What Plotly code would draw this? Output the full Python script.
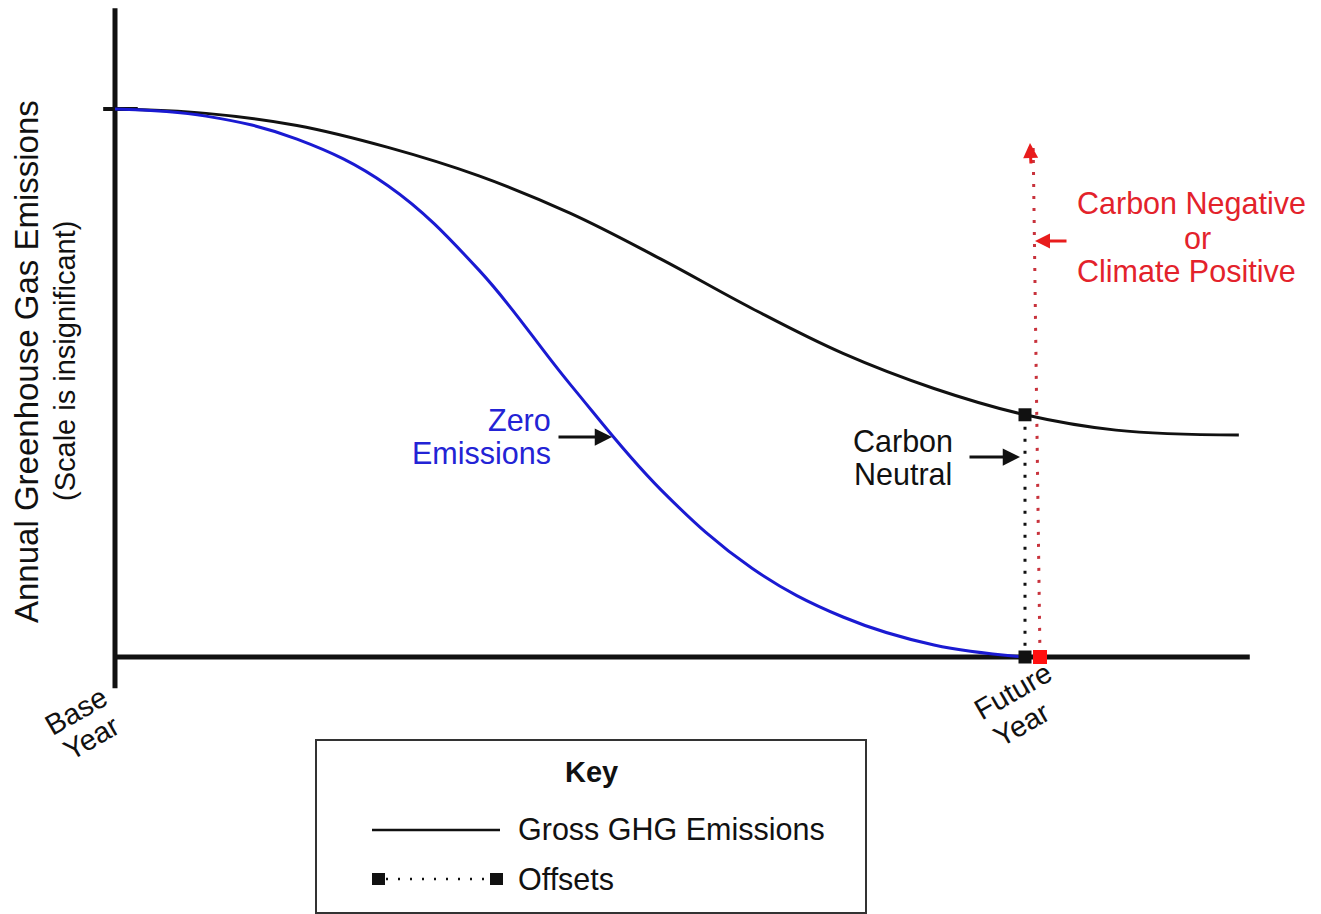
import plotly.graph_objects as go

W, H = 1321, 914

# ---- data (x: years after base year, future year = 10; y: % of base-year emissions) ----
gross_years = [0, 1, 2, 3, 4, 5, 6, 7, 8, 9, 10, 11, 12.35]
gross_values = [100, 99.2, 97.0, 93.0, 87.8, 81.0, 72.6, 63.6, 55.4, 49.0, 44.2, 41.4, 40.5]

zero_years = [0, 1, 2, 3, 4, 5, 6, 7, 8, 9, 10]
zero_values = [100, 98.7, 94.5, 86.0, 70.6, 49.8, 30.5, 16.2, 7.3, 2.2, 0]

future_year = 10
offset_x = [future_year, future_year]
offset_y = [44.2, 0]                 # gross at future year -> zero
negative_x = [10.09, 10.165]         # carbon-negative offsets line (top -> bottom)
negative_y = [92.9, 0]

# axis extents (data units)
X_MIN, X_MAX = -115 / 91, 1206 / 91
Y_MIN, Y_MAX = (657 - 914) / 5.48, 657 / 5.48
X_AXIS_END = 12.47
Y_AXIS_TOP = 118.4
Y_AXIS_BOTTOM = -5.7

FONT = "Liberation Sans, Arial, sans-serif"
BLACK = "#111111"
BLUE_LINE = "#1a1ad2"
BLUE_TEXT = "#2323d5"
RED_TEXT = "#e3222b"
RED_DOT = "#c8323c"
RED_ARROW = "#e81c1c"
FS = 30.5


def px(x):
    return x / W


def py(y):
    return 1 - y / H


fig = go.Figure()

# Gross GHG emissions curve
fig.add_trace(go.Scatter(x=gross_years, y=gross_values, mode="lines",
                         line=dict(color=BLACK, width=3, shape="spline", smoothing=1.1),
                         hoverinfo="skip"))
# Zero emissions curve
fig.add_trace(go.Scatter(x=zero_years, y=zero_values, mode="lines",
                         line=dict(color=BLUE_LINE, width=3, shape="spline", smoothing=1.1),
                         hoverinfo="skip"))
# Carbon negative offsets (red dotted)
fig.add_trace(go.Scatter(x=negative_x, y=negative_y, mode="lines",
                         line=dict(color=RED_DOT, width=3, dash="3px,9px"),
                         hoverinfo="skip"))
# Carbon neutral offsets (black dotted with squares)
fig.add_trace(go.Scatter(x=offset_x, y=offset_y, mode="lines",
                         line=dict(color=BLACK, width=3, dash="3px,9px"),
                         hoverinfo="skip"))
fig.add_trace(go.Scatter(x=offset_x, y=offset_y, mode="markers",
                         marker=dict(symbol="square", size=13, color=BLACK),
                         hoverinfo="skip"))
fig.add_trace(go.Scatter(x=[negative_x[1]], y=[negative_y[1]], mode="markers",
                         marker=dict(symbol="square", size=14, color="#ff1010"),
                         hoverinfo="skip"))

shapes = [
    # y axis
    dict(type="line", xref="x", yref="y", x0=0, x1=0, y0=Y_AXIS_BOTTOM, y1=Y_AXIS_TOP,
         line=dict(color=BLACK, width=5), layer="below"),
    # x axis
    dict(type="line", xref="x", yref="y", x0=0, x1=X_AXIS_END, y0=0, y1=0,
         line=dict(color=BLACK, width=5), layer="below"),
    # base level tick
    dict(type="line", xref="x", yref="y", x0=-0.13, x1=0.25, y0=100, y1=100,
         line=dict(color=BLACK, width=4), layer="below"),
    # key box
    dict(type="rect", xref="paper", yref="paper", x0=px(316), x1=px(866), y0=py(913), y1=py(740),
         line=dict(color="#333333", width=2), fillcolor="rgba(0,0,0,0)"),
    # key: gross sample line
    dict(type="line", xref="paper", yref="paper", x0=px(372), x1=px(500), y0=py(830), y1=py(830),
         line=dict(color=BLACK, width=2.5)),
    # key: offsets sample dotted line
    dict(type="line", xref="paper", yref="paper", x0=px(386), x1=px(490), y0=py(879), y1=py(879),
         line=dict(color=BLACK, width=2.5, dash="2px,10px")),
    dict(type="rect", xref="paper", yref="paper", x0=px(372), x1=px(385), y0=py(885), y1=py(873),
         line=dict(width=0), fillcolor=BLACK),
    dict(type="rect", xref="paper", yref="paper", x0=px(490), x1=px(503), y0=py(885), y1=py(873),
         line=dict(width=0), fillcolor=BLACK),
]

ann = []


def text(t, x, y, size=FS, color=BLACK, xanchor="center", angle=0, bold=False):
    ann.append(dict(text=("<b>%s</b>" % t) if bold else t, x=px(x), y=py(y),
                    xref="paper", yref="paper", xanchor=xanchor, yanchor="middle",
                    showarrow=False, textangle=angle,
                    font=dict(family=FONT, size=size, color=color)))


def arrow(hx, hy, ax, ay, color, head=2, size=1.15, width=3):
    ann.append(dict(text="", x=px(hx), y=py(hy), xref="paper", yref="paper",
                    ax=ax, ay=ay, showarrow=True, arrowhead=head, arrowsize=size,
                    arrowwidth=width, arrowcolor=color, standoff=0, startstandoff=0))


# y axis title
text("Annual Greenhouse Gas Emissions", 26, 362, size=33, angle=-90)
text("(Scale is insignificant)", 65, 361, size=29, angle=-90)

# base / future year labels
text("Base", 76, 711, size=29, angle=-30)
text("Year", 91, 738, size=29, angle=-30)
text("Future", 1013, 691, size=29, angle=-30)
text("Year", 1022, 724, size=29, angle=-30)

# Zero emissions
text("Zero", 553, 420, color=BLUE_TEXT, xanchor="right")
text("Emissions", 553, 453, color=BLUE_TEXT, xanchor="right")
arrow(612, 437, -55, 0, BLACK)

# Carbon neutral
text("Carbon", 903, 441)
text("Neutral", 903, 474)
arrow(1020, 457, -52, 0, BLACK)

# Carbon negative
text("Carbon Negative", 1191, 204, color=RED_TEXT)
text("or", 1197, 238, color=RED_TEXT)
text("Climate Positive", 1186, 271, color=RED_TEXT)
arrow(1035, 241, 33, 0, RED_ARROW, head=2, size=1.0, width=3)
arrow(1030, 143, 1, 22, RED_ARROW, head=2, size=1.0, width=3)

# Key
text("Key", 591, 772, size=29, bold=True)
text("Gross GHG Emissions", 516, 829, xanchor="left")
text("Offsets", 516, 879, xanchor="left")

fig.update_layout(
    width=W, height=H,
    margin=dict(l=0, r=0, t=0, b=0),
    paper_bgcolor="white", plot_bgcolor="white",
    showlegend=False,
    xaxis=dict(range=[X_MIN, X_MAX], visible=False, fixedrange=True),
    yaxis=dict(range=[Y_MIN, Y_MAX], visible=False, fixedrange=True),
    shapes=shapes,
    annotations=ann,
)

fig.write_html("out.html", config={"displayModeBar": False},
               post_script="document.body.style.margin='0';document.body.style.overflow='hidden';")
